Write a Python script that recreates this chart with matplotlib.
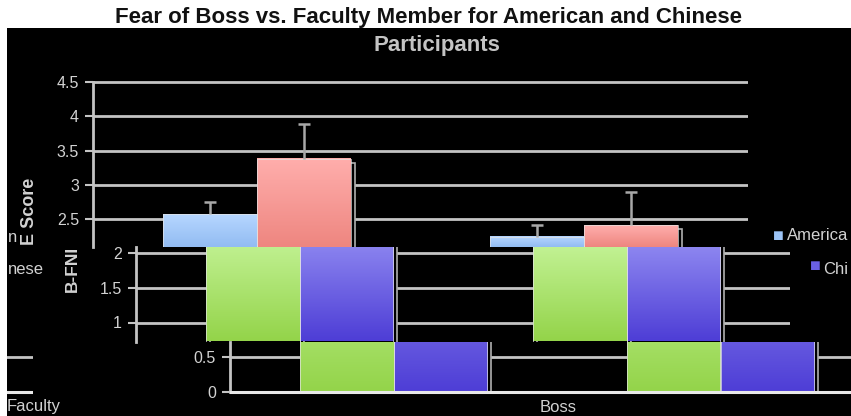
import matplotlib
matplotlib.use("Agg")
import matplotlib.pyplot as plt
import numpy as np
from matplotlib.colors import LinearSegmentedColormap
from matplotlib.patches import Rectangle
from matplotlib.ticker import FuncFormatter

plt.rcParams['font.family'] = ['Liberation Sans', 'DejaVu Sans']

# data
categories = ['Faculty', 'Boss']
series = ['American', 'Chinese']
fne_american = [2.57, 2.24]
fne_chinese = [3.38, 2.41]
fne_american_err = [0.18, 0.17]
fne_chinese_err = [0.50, 0.49]
# B-FNI bars run past the top of the visible part, so these are rough guesses
bfni_american = [2.5, 2.4]
bfni_chinese = [2.6, 2.5]
fne_ticks = [2.5, 3, 3.5, 4, 4.5]
bfni_ticks = [0, 0.5, 1, 1.5, 2]

W, H = 851, 416
fig = plt.figure(figsize=(W / 100, H / 100), dpi=100)
fig.patch.set_facecolor('white')
fig.patches.append(Rectangle((7 / W, 0), 1, 1 - 28 / H, transform=fig.transFigure,
                             facecolor='black', edgecolor='none', zorder=-5))

GRID = '#c4c4c4'
TXT = '#d2d2d2'
BAR_W = 0.287
tick_fmt = FuncFormatter(lambda v, pos: f'{v:g}')


def px_axes(left, top, right, bottom):
    ax = fig.add_axes([left / W, 1 - bottom / H, (right - left) / W, (bottom - top) / H])
    ax.set_facecolor('none')
    return ax


def grad_bars(ax, x, vals, c_top, c_bot, ybot):
    cmap = LinearSegmentedColormap.from_list('g', [c_bot, c_top])
    grad = np.linspace(0, 1, 64).reshape(-1, 1)
    # black shadow with a grey outline, offset down-right
    dx = 4 / 327
    dy = 4 / 69
    ax.bar(np.array(x) + dx, np.array(vals) - dy, width=BAR_W, bottom=0,
           facecolor='black', edgecolor='#b0b0b0', linewidth=1.2, zorder=2)
    bars = ax.bar(x, vals, width=BAR_W, facecolor='none', edgecolor='#e4e4e4',
                  linewidth=0.5, zorder=4)
    for b in bars:
        bx, bw, bh = b.get_x(), b.get_width(), b.get_height()
        ax.imshow(grad, extent=[bx, bx + bw, max(0, ybot), bh], origin='lower',
                  cmap=cmap, aspect='auto', zorder=3)
    return bars


def up_errors(ax, x, vals, errs):
    tops = np.array(vals) + np.array(errs)
    cap = 6 / 327
    ax.vlines(x, vals, tops, color='#a8a8a8', linewidth=1.8, zorder=5)
    ax.hlines(tops, np.array(x) - cap, np.array(x) + cap, color='#a8a8a8',
              linewidth=1.8, zorder=5)


def style_axis(ax, ylim, ticks, xlim=(-0.5, 1.5), show_axis=True):
    ax.set_xlim(*xlim)
    ax.set_ylim(*ylim)
    ax.set_xticks([])
    for s in ['top', 'right', 'bottom']:
        ax.spines[s].set_visible(False)
    ax.yaxis.grid(True, color=GRID, linewidth=2)
    ax.set_axisbelow(True)
    ax.set_yticks([t for t in ticks if ylim[0] <= t <= ylim[1]])
    ax.yaxis.set_major_formatter(tick_fmt)
    if show_axis:
        ax.spines['left'].set_color(GRID)
        ax.spines['left'].set_linewidth(2)
        ax.spines['left'].set_bounds(max(0, ylim[0]), ylim[1])
        ax.tick_params(axis='y', length=6, width=1.5, color=GRID, labelcolor=TXT,
                       labelsize=11.5, pad=4)
    else:
        ax.spines['left'].set_visible(False)
        ax.tick_params(axis='y', length=0, labelleft=False)


x = np.arange(len(categories))

# upper chart: FNE scores (cut at y=247 px)
ax = px_axes(93, 76, 748, 247)
ylim_up = (4.5 - (247 - 82) / 68.5, 4.5 + 6 / 68.5)
grad_bars(ax, x - BAR_W / 2, fne_american, '#b6d6ff', '#92bcf2', ylim_up[0])
grad_bars(ax, x + BAR_W / 2, fne_chinese, '#ffaeac', '#ee8680', ylim_up[0])
up_errors(ax, x - BAR_W / 2, fne_american, fne_american_err)
up_errors(ax, x + BAR_W / 2, fne_chinese, fne_chinese_err)
style_axis(ax, ylim_up, fne_ticks)
ax.spines['left'].set_bounds(ylim_up[0], 4.5)


# lower chart: B-FNI, drawn in shifted tiles
def draw_lower(left, top, right, bottom, xlim=(-0.5, 1.5), show_axis=True):
    a = px_axes(left, top, right, bottom)
    ylim = (-(bottom - 392) / 69.5, (392 - top) / 69.5)
    grad_bars(a, x - BAR_W / 2, bfni_american, '#ccf8a4', '#94d44a', ylim[0])
    grad_bars(a, x + BAR_W / 2, bfni_chinese, '#a09cf8', '#4e3ed6', ylim[0])
    style_axis(a, ylim, bfni_ticks, xlim, show_axis)
    a.axhline(0, color='#e8e8e8', linewidth=2.2, zorder=6)
    return a


draw_lower(136, 247, 790, 341.5)
draw_lower(230, 341.5, 884, 416)
draw_lower(7, 341.5, 33, 416, xlim=(1.5 - 26 / 327, 1.5), show_axis=False)

# title
fig.text(428 / W, 1 - 18 / H, 'Fear of Boss vs. Faculty Member for American and Chinese',
         ha='center', va='center', fontsize=16, fontweight='bold', color='#111111')
fig.text(437 / W, 1 - 46 / H, 'Participants', ha='center', va='center',
         fontsize=16, fontweight='bold', color='#c4c4c4')

# axis titles
fig.text(30 / W, 1 - 245 / H, 'E Score', rotation=90, ha='center', va='bottom',
         fontsize=13, fontweight='bold', color=TXT)
fig.text(72 / W, 1 - 269 / H, 'B-FNI', rotation=90, ha='center', va='center',
         fontsize=12.5, fontweight='bold', color=TXT)

# category labels
fig.text(7 / W, 1 - 407 / H, categories[0], ha='left', va='center', fontsize=12, color=TXT)
fig.text(540 / W, 1 - 407 / H, categories[1], ha='left', va='center', fontsize=12, color=TXT)

# legend pieces, wrapped round the right edge as in the picture
fig.text(773 / W, 1 - 236 / H, '■', ha='left', va='center', fontsize=13, color='#9cc4f6')
fig.text(787 / W, 1 - 236 / H, series[0][:7], ha='left', va='center', fontsize=12, color=TXT)
fig.text(8 / W, 1 - 237 / H, series[0][7:], ha='left', va='center', fontsize=12, color=TXT)
fig.text(810 / W, 1 - 267 / H, '■', ha='left', va='center', fontsize=13, color='#6a60e4')
fig.text(823 / W, 1 - 269 / H, series[1][:3], ha='left', va='center', fontsize=12, color=TXT)
fig.text(8 / W, 1 - 270 / H, series[1][3:], ha='left', va='center', fontsize=12, color=TXT)

fig.savefig('out.png', dpi=100, facecolor=fig.get_facecolor())
